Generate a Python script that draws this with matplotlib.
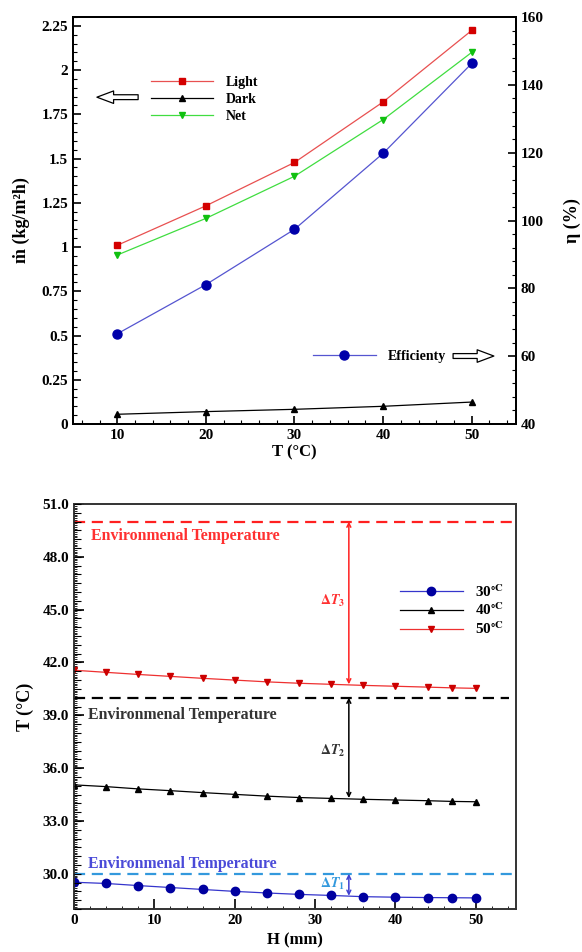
import numpy as np
import matplotlib
matplotlib.use('Agg')
import matplotlib.pyplot as plt
from matplotlib.ticker import MultipleLocator

plt.rcParams['font.family'] = ['Liberation Serif', 'DejaVu Serif']
plt.rcParams['font.weight'] = 'bold'
plt.rcParams['mathtext.fontset'] = 'stix'

# top panel data
temp = [10, 20, 30, 40, 50]
light = [1.01, 1.233, 1.478, 1.82, 2.224]
dark = [0.055, 0.07, 0.083, 0.10, 0.124]
net = [0.955, 1.162, 1.40, 1.72, 2.10]
eff = [66.6, 81.1, 97.4, 119.8, 146.3]

# bottom panel data
h = [0, 4, 8, 12, 16, 20, 24, 28, 32, 36, 40, 44, 47, 50]
t30 = [29.52, 29.45, 29.33, 29.22, 29.11, 29.00, 28.91, 28.83, 28.77, 28.70, 28.67, 28.65, 28.64, 28.63]
t40 = [35.05, 34.95, 34.82, 34.72, 34.61, 34.51, 34.41, 34.33, 34.28, 34.23, 34.19, 34.15, 34.11, 34.09]
t50 = [41.56, 41.44, 41.32, 41.21, 41.10, 41.00, 40.90, 40.82, 40.76, 40.70, 40.65, 40.60, 40.56, 40.53]
env = [30, 40, 50]
arrow_h = 34.2
arrow_end = [28.75, 34.3, 40.76]

fig = plt.figure(figsize=(5.82, 9.52), dpi=100)

# ---------------- top panel ----------------
ax = fig.add_axes([73/582, 1-424/952, 443/582, 407/952])
ax2 = ax.twinx()

l1, = ax.plot(temp, light, color='#e85050', lw=0.9, marker='s', ms=4.5, mfc='#d40000', mec='#d40000', label='Light')
l2, = ax.plot(temp, dark, color='black', lw=0.9, marker='^', ms=4.5, label='Dark')
l3, = ax.plot(temp, net, color='#40dd40', lw=0.9, marker='v', ms=4.5, mfc='#10c010', mec='#10c010', label='Net')
l4, = ax2.plot(temp, eff, color='#5555d0', lw=0.9, marker='o', ms=6.5, mfc='#0000aa', mec='#0000aa', label='Efficienty')

ax.set_xlim(5, 55)
ax.set_ylim(0, 2.3)
ax2.set_ylim(40, 160)
ax.set_xticks(temp)
ax.xaxis.set_minor_locator(MultipleLocator(2))
ax.set_yticks([0, 0.25, 0.5, 0.75, 1, 1.25, 1.5, 1.75, 2, 2.25])
ax.set_yticklabels(['0', '0.25', '0.5', '0.75', '1', '1.25', '1.5', '1.75', '2', '2.25'])
ax.yaxis.set_minor_locator(MultipleLocator(0.05))
ax2.set_yticks([40, 60, 80, 100, 120, 140, 160])
ax2.yaxis.set_minor_locator(MultipleLocator(4))

for a in (ax, ax2):
    a.tick_params(which='both', direction='in', labelsize=11, width=1.2)
    a.tick_params(which='major', length=6)
    a.tick_params(which='minor', length=3, width=0.8)
    for s in a.spines.values():
        s.set_linewidth(1.4)
ax.tick_params(top=False, right=False)

ax.set_xlabel('T (°C)', fontsize=12, fontweight='bold', labelpad=2)
ax.set_ylabel('ṁ (kg/m²h)', fontsize=13, fontweight='bold', labelpad=8)
ax2.set_ylabel('η (%)', fontsize=13, fontweight='bold', labelpad=14)

leg = ax.legend(handles=[l1, l2, l3], loc='upper left', bbox_to_anchor=(0.176, 0.855),
                frameon=False, fontsize=10, handlelength=4.5, handletextpad=0.9,
                labelspacing=0.3, borderpad=0, borderaxespad=0)
leg2 = ax2.legend(handles=[l4], loc='center left', bbox_to_anchor=(0.542, 0.165),
                  frameon=False, fontsize=10, handlelength=4.5, handletextpad=0.9,
                  borderpad=0, borderaxespad=0)

arrow_kw = dict(arrowstyle='simple,head_length=1.2,head_width=0.9,tail_width=0.35',
                fc='white', ec='black', lw=0.9, shrinkA=0, shrinkB=0)
ax.annotate('', xy=(0.054, 0.803), xytext=(0.147, 0.803), xycoords='axes fraction',
            arrowprops=arrow_kw)
ax.annotate('', xy=(0.950, 0.167), xytext=(0.858, 0.167), xycoords='axes fraction',
            arrowprops=arrow_kw)

# ---------------- bottom panel ----------------
bx = fig.add_axes([74/582, 1-909/952, 442/582, 405/952])

env_colors = ['#3399dd', 'black', '#ff2020']
text_colors = ['#4a4ad8', '#333333', '#ff3030']
arrow_colors = ['#4040d0', 'black', '#ff2020']
bx.axhline(env[2], color=env_colors[2], ls='--', dashes=(5, 3), lw=1.6)
bx.axhline(env[1], xmax=0.985, color=env_colors[1], ls='--', dashes=(5, 3), lw=1.6)
bx.axhline(env[0], color=env_colors[0], ls='--', dashes=(5, 3), lw=1.6)

p30, = bx.plot(h, t30, color='#3535cc', lw=0.9, marker='o', ms=6, mfc='#0000a0', mec='#0000a0', label=r'30$^{\circ\mathrm{C}}$')
p40, = bx.plot(h, t40, color='black', lw=0.9, marker='^', ms=4.5, label=r'40$^{\circ\mathrm{C}}$')
p50, = bx.plot(h, t50, color='#ee3030', lw=0.9, marker='v', ms=4.5, mfc='#cc0000', mec='#cc0000', label=r'50$^{\circ\mathrm{C}}$')

bx.text(2.1, 49.2, 'Environmenal Temperature', color=text_colors[2], fontsize=11.4, fontweight='bold', va='center')
bx.text(1.75, 39.0, 'Environmenal Temperature', color=text_colors[1], fontsize=11.4, fontweight='bold', va='center')
bx.text(1.75, 30.55, 'Environmenal Temperature', color=text_colors[0], fontsize=11.4, fontweight='bold', va='center')

labels_dt = [r'$\Delta T_1$', r'$\Delta T_2$', r'$\Delta T_3$']
label_y = [29.45, 36.95, 45.5]
for i in range(3):
    bx.annotate('', xy=(arrow_h, env[i]), xytext=(arrow_h, arrow_end[i]),
                arrowprops=dict(arrowstyle='<->', color=arrow_colors[i], lw=1.1,
                                shrinkA=0, shrinkB=0, mutation_scale=7))
    bx.text(arrow_h - 0.5, label_y[i], labels_dt[i], color=env_colors[i] if i == 0 else text_colors[i],
            fontsize=10, ha='right', va='center')

bx.set_xlim(0, 55)
bx.set_ylim(28, 51)
bx.set_xticks([0, 10, 20, 30, 40, 50])
bx.xaxis.set_minor_locator(MultipleLocator(2))
bx.set_yticks([30, 33, 36, 39, 42, 45, 48, 51])
bx.set_yticklabels(['30.0', '33.0', '36.0', '39.0', '42.0', '45.0', '48.0', '51.0'])
bx.yaxis.set_minor_locator(MultipleLocator(0.1))
bx.tick_params(which='both', direction='in', labelsize=11, width=1.2, top=False, right=False)
bx.tick_params(which='major', length=7)
bx.tick_params(which='minor', length=2.5, width=0.6)
for s in bx.spines.values():
    s.set_linewidth(1.4)
    s.set_color('#333333')

# medium ticks every 0.5 on the left axis
bm = bx.twinx()
bm.set_ylim(28, 51)
bm.yaxis.set_ticks_position('left')
bm.set_yticks(np.arange(28, 51.01, 0.5))
bm.set_yticklabels([])
bm.tick_params(axis='y', direction='in', length=5, width=0.8)
for s in bm.spines.values():
    s.set_visible(False)

bx.set_xlabel('H (mm)', fontsize=12, fontweight='bold', labelpad=4)
bx.set_ylabel('T (°C)', fontsize=13, fontweight='bold', labelpad=6)

bx.legend(handles=[p30, p40, p50], loc='upper left', bbox_to_anchor=(0.7376, 0.805),
          frameon=False, fontsize=11, handlelength=4.1, handletextpad=0.8,
          labelspacing=0.15, borderpad=0, borderaxespad=0)

fig.savefig('out.png', dpi=100)
